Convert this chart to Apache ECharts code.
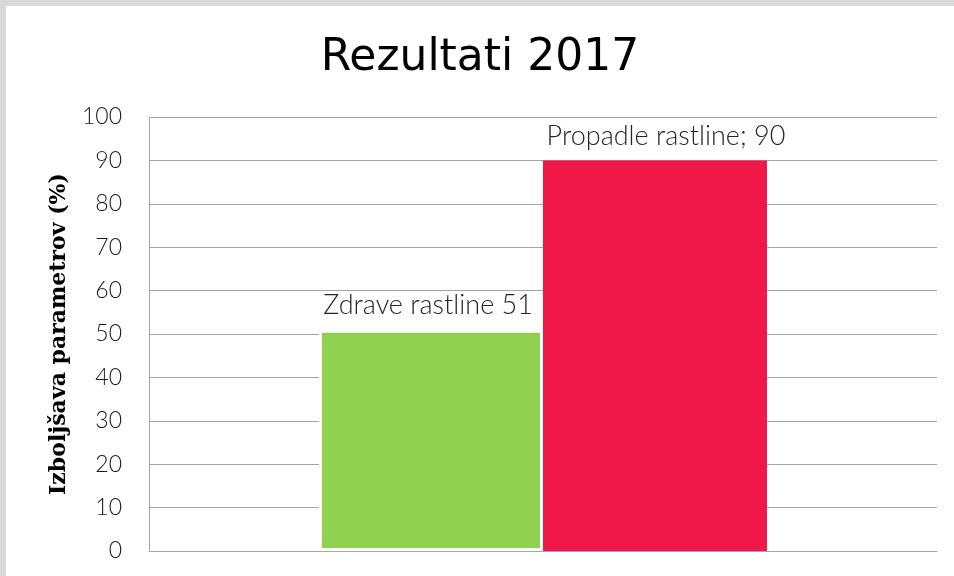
<!DOCTYPE html>
<html><head><meta charset="utf-8">
<script src="https://cdn.jsdelivr.net/npm/echarts@6/dist/echarts.min.js"></script>
<style>
html,body{margin:0;padding:0;background:#d9d9d9;width:954px;height:576px;overflow:hidden;}
#c{position:absolute;left:6px;top:6px;width:948px;height:570px;background:#fff;}
</style></head><body>
<div id="c"></div>
<script>
const categories = ['Rezultati 2017'];
const seriesNames = ['Zdrave rastline', 'Propadle rastline'];
const healthy = [51];
const dead = [90];
const labelTexts = ['Zdrave rastline 51', 'Propadle rastline; 90'];
const yTicks = [0, 10, 20, 30, 40, 50, 60, 70, 80, 90, 100];

const chart = echarts.init(document.getElementById('c'), null, {renderer: 'canvas'});
const lblStyle = {show: true, position: 'top', color: '#262626', fontFamily: 'Lato', fontWeight: 300, fontSize: 27, distance: 11};
chart.setOption({
  animation: false,
  title: {text: 'Rezultati 2017', left: 'center', top: 26,
    textStyle: {fontFamily: 'DejaVu Sans', fontWeight: 'normal', fontSize: 44, color: '#000'}},
  grid: {left: 143, right: 17, top: 111, bottom: 25},
  xAxis: {type: 'category', data: categories,
    axisLine: {lineStyle: {color: '#a6a6a6', width: 1}}, axisTick: {show: false}, axisLabel: {show: false}},
  yAxis: {type: 'value', min: yTicks[0], max: yTicks[yTicks.length - 1], interval: 10,
    name: 'Izboljšava parametrov (%)', nameLocation: 'middle', nameGap: 79, nameRotate: 90,
    nameTextStyle: {fontFamily: 'DejaVu Serif', fontWeight: 'bold', fontSize: 22, color: '#000'},
    axisLine: {show: true, lineStyle: {color: '#a6a6a6'}}, axisTick: {show: false},
    axisLabel: {fontFamily: 'Lato', fontWeight: 300, fontSize: 23, color: '#1a1a1a', margin: 27},
    splitLine: {lineStyle: {color: '#a6a6a6', width: 1}}},
  series: [
    {name: seriesNames[0], type: 'bar', data: healthy, barWidth: 224, barGap: '0%',
     itemStyle: {color: '#92d050', borderColor: '#ffffff', borderWidth: 3},
     label: Object.assign({}, lblStyle, {formatter: () => labelTexts[0], offset: [-3, 0]})},
    {name: seriesNames[1], type: 'bar', data: dead, barWidth: 224,
     itemStyle: {color: '#ef1849'},
     label: Object.assign({}, lblStyle, {formatter: () => labelTexts[1], offset: [11, 0]})}
  ]
});
</script></body></html>
